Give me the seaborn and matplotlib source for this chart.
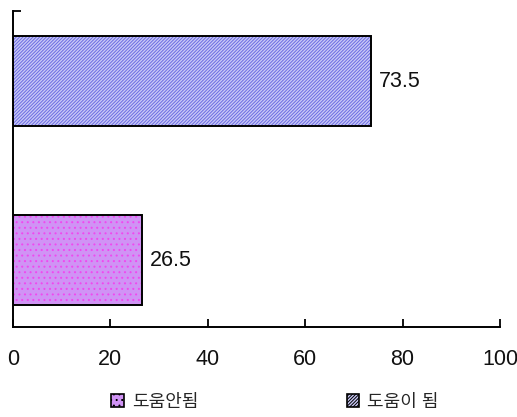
import matplotlib
matplotlib.use("Agg")
import matplotlib.pyplot as plt
import matplotlib.patches as mpatches
import seaborn as sns
import pandas as pd

# 응답 분포 (%)
series = ["도움이 됨", "도움안됨"]
values = [73.5, 26.5]
xticks = [0, 20, 40, 60, 80, 100]
legend_order = ["도움안됨", "도움이 됨"]

sns.set_style("white")
plt.rcParams["font.family"] = ["Liberation Sans", "Noto Sans CJK KR", "DejaVu Sans"]
plt.rcParams["hatch.linewidth"] = 0.7

fills = {"도움이 됨": "#c8c8f6", "도움안됨": "#d093f5"}
hatch_cols = {"도움이 됨": "#6a6ae2", "도움안됨": "#f048f0"}
hatches = {"도움이 됨": "//////////", "도움안됨": "..."}

df = pd.DataFrame({"series": series, "value": values})

fig = plt.figure(figsize=(5.17, 4.17), dpi=100)
ax = fig.add_axes([0.0251, 0.2158, 0.9420, 0.7578])

sns.barplot(data=df, y="series", x="value", hue="series", order=series,
            palette=fills, width=0.503, legend=False, ax=ax, saturation=1)

for bar, name, val in zip(ax.patches, series, values):
    bar.set_hatch(hatches[name])
    bar.set_edgecolor(hatch_cols[name])
    bar.set_linewidth(0)
    outline = mpatches.Rectangle((bar.get_x(), bar.get_y()), bar.get_width(),
                                 bar.get_height(), fill=False, edgecolor="black",
                                 linewidth=1.4, zorder=3)
    ax.add_patch(outline)
    ax.text(val + 1.7, bar.get_y() + bar.get_height() / 2, f"{val}",
            va="center", ha="left", fontsize=15.5, color="#111111")

ax.set_xlim(0, 100)
ax.set_ylim(1.374, -0.391)
ax.set_xticks(xticks)
ax.set_xticklabels([str(t) for t in xticks])
ax.set_yticks([-0.391])
ax.set_yticklabels([])
ax.set_xlabel("")
ax.set_ylabel("")

for side in ["top", "right"]:
    ax.spines[side].set_visible(False)
for side in ["left", "bottom"]:
    ax.spines[side].set_color("black")
    ax.spines[side].set_linewidth(1.4)

ax.tick_params(axis="x", direction="in", length=6, width=1.3, colors="black",
               labelsize=15.5, pad=16, bottom=True)
ax.tick_params(axis="y", direction="in", length=6, width=1.3, colors="black",
               left=True)
for lbl in ax.get_xticklabels():
    lbl.set_color("#111111")

handles = [mpatches.Patch(facecolor=fills[n], edgecolor="black", hatch=hatches[n],
                          linewidth=1.2, label=n) for n in legend_order]
leg = fig.legend(handles=handles, loc="center", bbox_to_anchor=(0.532, 0.035),
                 ncol=2, frameon=False, fontsize=13, handlelength=0.7,
                 handleheight=0.7, handletextpad=0.45, columnspacing=8.2)

fig.savefig("out.png", dpi=100)
